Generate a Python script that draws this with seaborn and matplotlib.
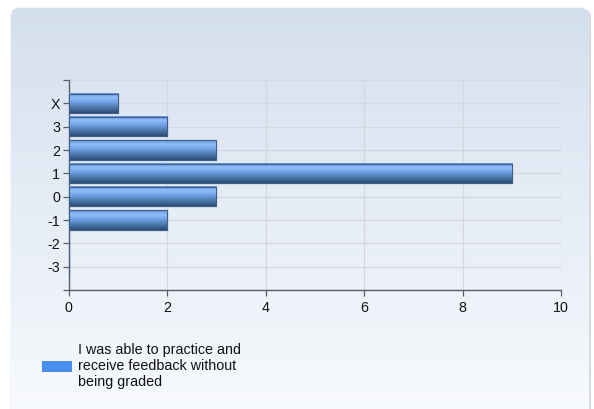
import numpy as np
import pandas as pd
import matplotlib
matplotlib.use("Agg")
import matplotlib.pyplot as plt
from matplotlib.patches import FancyBboxPatch, Rectangle, Patch
from matplotlib.colors import LinearSegmentedColormap
import seaborn as sns

# Survey responses per rating
categories = ["X", "3", "2", "1", "0", "-1", "-2", "-3"]
counts = [1, 2, 3, 9, 3, 2, 0, 0]
series_name = "I was able to practice and\nreceive feedback without\nbeing graded"
x_ticks = [0, 2, 4, 6, 8, 10]

df = pd.DataFrame({"rating": categories, "count": counts})

sns.set_theme(style="white")
plt.rcParams["font.family"] = ["Liberation Sans", "DejaVu Sans"]

W, H = 594, 409
fig = plt.figure(figsize=(W / 100, H / 100), dpi=100)
fig.patch.set_facecolor("white")

# Rounded panel with vertical gradient behind the chart
bg = fig.add_axes([0, 0, 1, 1], zorder=-10)
bg.set_xlim(0, W)
bg.set_ylim(H, 0)
bg.axis("off")
shadow = FancyBboxPatch((13, 9), 578, 410, boxstyle="round,pad=0,rounding_size=9",
                        facecolor="#b8bcc2", edgecolor="none", alpha=0.6)
bg.add_patch(shadow)
panel = FancyBboxPatch((11, 8), 578, 410, boxstyle="round,pad=0,rounding_size=9",
                       facecolor="none", edgecolor="#e4e8ee", linewidth=0.6)
bg.add_patch(panel)
panel_cmap = LinearSegmentedColormap.from_list("panel", ["#d4dfee", "#e6edf6", "#f8fafd"])
grad = np.linspace(0, 1, 256).reshape(-1, 1)
img = bg.imshow(grad, extent=(11, 589, 418, 8), aspect="auto", cmap=panel_cmap,
                origin="upper", zorder=1)
img.set_clip_path(panel)

# Chart area
ax = fig.add_axes([68.5 / W, 1 - 290 / H, (561 - 68.5) / W, (290 - 80) / H])
ax.patch.set_alpha(0)
sns.barplot(data=df, x="count", y="rating", order=categories, orient="h",
            color="#4a86e0", width=0.84, edgecolor="#3d5f8c", linewidth=0.8,
            ax=ax, zorder=3)

# Glossy gradient fill on each bar
bar_cmap = LinearSegmentedColormap.from_list(
    "bar", [(0.0, "#6394de"), (0.22, "#92bef8"), (0.45, "#70a1e8"),
            (0.75, "#4a75a4"), (1.0, "#2c4b78")])
bar_grad = np.linspace(0, 1, 64).reshape(-1, 1)
for p in list(ax.patches):
    x0, y0, w, h = p.get_x(), p.get_y(), p.get_width(), p.get_height()
    if w <= 0:
        continue
    ax.imshow(bar_grad, extent=(x0, x0 + w, y0 + h, y0), aspect="auto",
              cmap=bar_cmap, origin="upper", zorder=4)
    ax.add_patch(Rectangle((x0, y0), w, h, facecolor="none",
                           edgecolor="#3f5f88", linewidth=0.8, zorder=5))

ax.set_xlim(0, 10)
ax.set_ylim(8, -1)
ax.set_xticks(x_ticks)
ax.set_xticklabels([str(t) for t in x_ticks])
ax.set_yticks(range(-1, 9))
ax.set_yticklabels([""] + categories + [""])
ax.set_xlabel("")
ax.set_ylabel("")

ax.grid(True, color="#d3d8df", linewidth=0.9, zorder=0)
ax.set_axisbelow(True)
for s in ["top", "right"]:
    ax.spines[s].set_visible(False)
for s in ["left", "bottom"]:
    ax.spines[s].set_visible(True)
    ax.spines[s].set_color("#5a5f66")
    ax.spines[s].set_linewidth(1.0)
ax.tick_params(axis="both", which="both", direction="out", length=4.5, width=0.9,
               color="#5a5f66", labelsize=10.3, labelcolor="#111111",
               left=True, bottom=True)
ax.tick_params(axis="y", pad=1.5)
ax.tick_params(axis="x", pad=3.5)

# Legend below the chart
handle = Patch(facecolor="#4a8ef0", edgecolor="none")
fig.legend([handle], [series_name], loc="center left",
           bbox_to_anchor=(42 / W, 1 - 366 / H), frameon=False, fontsize=10.3,
           handlelength=2.1, handleheight=0.77, handletextpad=0.42,
           borderpad=0, borderaxespad=0, labelcolor="#111111")

fig.savefig("out.png", dpi=100)
